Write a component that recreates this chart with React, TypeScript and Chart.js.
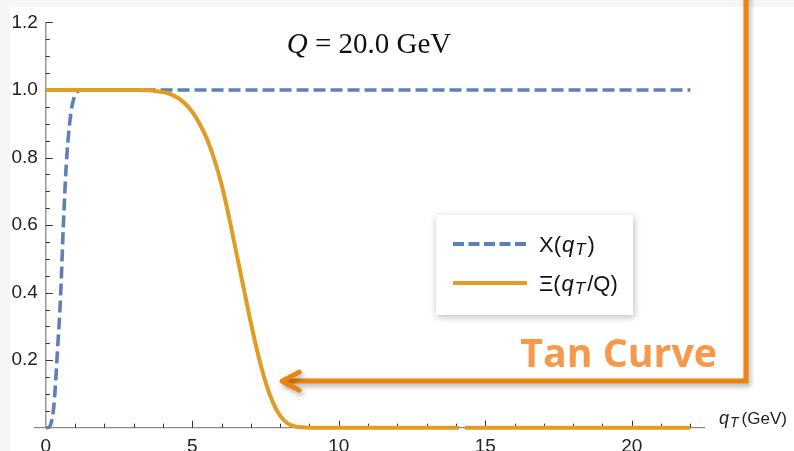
import React, { useEffect, useRef } from "react";
import { Chart, registerables } from "chart.js";

Chart.register(...registerables);

// ---- data ----
const xQ = [0, 0.1, 0.2, 0.25, 0.3, 0.4, 0.5, 0.6, 0.7, 0.8, 0.9, 1.0, 1.1, 1.2, 22.0];
const xVals = [0, 0.001, 0.02, 0.045, 0.09, 0.23, 0.38, 0.6, 0.78, 0.89, 0.955, 0.985, 0.997, 1.0, 1.0];

const xiQ = [0, 3.0, 3.5, 3.75, 4.0, 4.25, 4.5, 4.75, 5.0, 5.25, 5.5, 5.75, 6.0, 6.25, 6.5, 6.75, 7.0, 7.25, 7.5, 7.75, 8.0, 8.25, 8.5, 8.75, 9.0, 14.1, 14.2, 14.3, 22.0];
const xiVals = [1, 1, 0.999, 0.997, 0.994, 0.988, 0.977, 0.96, 0.935, 0.9, 0.855, 0.795, 0.72, 0.625, 0.52, 0.415, 0.31, 0.215, 0.135, 0.075, 0.035, 0.013, 0.004, 0.001, 0, 0, null, 0, 0];

const yTickLabels = ["0.2", "0.4", "0.6", "0.8", "1.0", "1.2"];
const xTickLabels = ["0", "5", "10", "15", "20"];

const titleText = { q: "Q", rest: " = 20.0 GeV" };
const legendLabels = ["X", "Ξ"];
const annotationText = "Tan Curve";
// arrow, in data coordinates
const arrowTip = { x: 8.03, y: 0.138 };
const arrowRightX = 23.9;

const BLUE = "#5E81B5";
const ORANGE = "#E19C24";
const ANN = "#EE830F";
const ANN_TEXT = "#F7984A";
const SANS = "'Liberation Sans', Arial, sans-serif";
const SERIF = "'Liberation Serif', 'Times New Roman', serif";

function drawQT(ctx: CanvasRenderingContext2D, x: number, y: number, size: number) {
  ctx.font = `italic ${size}px ${SANS}`;
  ctx.fillText("q", x, y);
  x += ctx.measureText("q").width + 1;
  const sub = Math.round(size * 0.75);
  ctx.font = `italic ${sub}px ${SANS}`;
  ctx.fillText("T", x, y + size * 0.15);
  x += ctx.measureText("T").width + 2;
  return x;
}

const decorPlugin = {
  id: "decor",
  beforeDraw(chart: any) {
    const { ctx, width, height } = chart;
    ctx.save();
    ctx.fillStyle = "#ffffff";
    ctx.fillRect(0, 0, width, height);
    ctx.fillStyle = "#f6f6f6";
    ctx.fillRect(0, 0, width, 7);
    ctx.fillRect(0, 0, 10, height);
    ctx.restore();
  },
  beforeDatasetsDraw(chart: any) {
    const { ctx } = chart;
    const xs = chart.scales.x;
    const ys = chart.scales.y;
    const x0 = xs.getPixelForValue(0);
    const y0 = ys.getPixelForValue(0);
    ctx.save();
    // axes
    ctx.strokeStyle = "#8a8a8a";
    ctx.lineWidth = 1.3;
    ctx.beginPath();
    ctx.moveTo(x0, ys.getPixelForValue(1.2) - 0.5);
    ctx.lineTo(x0, y0);
    ctx.moveTo(x0 - 12, y0);
    ctx.lineTo(xs.right, y0);
    ctx.stroke();
    // ticks
    ctx.strokeStyle = "#333";
    ctx.lineWidth = 1;
    ctx.beginPath();
    for (let i = 1; i <= 24; i++) {
      const v = i * 0.05;
      const p = Math.round(ys.getPixelForValue(v)) + 0.5;
      const len = i % 4 === 0 ? 7 : 4;
      ctx.moveTo(x0, p);
      ctx.lineTo(x0 + len, p);
    }
    for (let i = 1; i <= 22; i++) {
      const p = Math.round(xs.getPixelForValue(i)) + 0.5;
      const len = i % 5 === 0 ? 7 : 4;
      ctx.moveTo(p, y0);
      ctx.lineTo(p, y0 - len);
    }
    ctx.stroke();
    ctx.restore();
  },
  afterDraw(chart: any) {
    const { ctx } = chart;
    const xs = chart.scales.x;
    const ys = chart.scales.y;
    ctx.save();

    // title
    ctx.fillStyle = "#111";
    ctx.textBaseline = "alphabetic";
    const tf = 29;
    ctx.font = `italic ${tf}px ${SERIF}`;
    const wq = ctx.measureText(titleText.q).width;
    ctx.font = `${tf}px ${SERIF}`;
    const wr = ctx.measureText(titleText.rest).width;
    const tx = 369 - (wq + wr) / 2;
    ctx.font = `italic ${tf}px ${SERIF}`;
    ctx.fillText(titleText.q, tx, 53);
    ctx.font = `${tf}px ${SERIF}`;
    ctx.fillText(titleText.rest, tx + wq, 53);

    // x axis label
    ctx.fillStyle = "#222";
    let ax = drawQT(ctx, 719, 424, 18);
    ctx.font = `17px ${SANS}`;
    ctx.fillText("(GeV)", ax + 1, 424);

    // legend
    ctx.save();
    ctx.shadowColor = "rgba(0,0,0,0.28)";
    ctx.shadowBlur = 7;
    ctx.shadowOffsetX = 1;
    ctx.shadowOffsetY = 2;
    ctx.fillStyle = "#fff";
    ctx.fillRect(436, 215, 197, 100);
    ctx.restore();
    ctx.lineWidth = 4;
    ctx.strokeStyle = BLUE;
    ctx.setLineDash([11, 4.5]);
    ctx.beginPath();
    ctx.moveTo(453, 244);
    ctx.lineTo(527, 244);
    ctx.stroke();
    ctx.setLineDash([]);
    ctx.strokeStyle = ORANGE;
    ctx.beginPath();
    ctx.moveTo(453, 283);
    ctx.lineTo(527, 283);
    ctx.stroke();
    ctx.fillStyle = "#111";
    const fs = 22;
    let lx = 539;
    ctx.font = `${fs}px ${SANS}`;
    ctx.fillText(legendLabels[0] + "(", lx, 252);
    lx += ctx.measureText(legendLabels[0] + "(").width + 1;
    lx = drawQT(ctx, lx, 252, fs);
    ctx.font = `${fs}px ${SANS}`;
    ctx.fillText(")", lx, 252);
    lx = 539;
    ctx.fillText(legendLabels[1] + "(", lx, 291);
    lx += ctx.measureText(legendLabels[1] + "(").width + 1;
    lx = drawQT(ctx, lx, 291, fs);
    ctx.font = `${fs}px ${SANS}`;
    ctx.fillText("/Q)", lx, 291);

    // annotation arrow
    const tipX = xs.getPixelForValue(arrowTip.x);
    const tipY = ys.getPixelForValue(arrowTip.y);
    const rx = xs.getPixelForValue(arrowRightX);
    ctx.save();
    ctx.shadowColor = "rgba(0,0,0,0.3)";
    ctx.shadowBlur = 5;
    ctx.shadowOffsetX = 2;
    ctx.shadowOffsetY = 3;
    ctx.strokeStyle = ANN;
    ctx.lineWidth = 5;
    ctx.lineJoin = "miter";
    ctx.beginPath();
    ctx.moveTo(rx, -10);
    ctx.lineTo(rx, tipY);
    ctx.lineTo(tipX + 3, tipY);
    ctx.stroke();
    ctx.lineCap = "round";
    ctx.lineJoin = "round";
    ctx.beginPath();
    ctx.moveTo(tipX + 18, tipY - 9);
    ctx.lineTo(tipX + 1, tipY);
    ctx.lineTo(tipX + 18, tipY + 9);
    ctx.stroke();
    ctx.restore();

    // annotation text
    ctx.fillStyle = ANN_TEXT;
    ctx.font = `bold 40px 'Open Sans', Lato, sans-serif`;
    const w0 = ctx.measureText(annotationText).width;
    const size = Math.min(44, 40 * 197 / w0);
    ctx.font = `bold ${size.toFixed(1)}px 'Open Sans', Lato, sans-serif`;
    const w = ctx.measureText(annotationText).width;
    ctx.fillText(annotationText, 717 - w, 367);

    ctx.restore();
  },
};

export default function App() {
  const ref = useRef<HTMLCanvasElement | null>(null);

  useEffect(() => {
    if (!ref.current) return;
    const chart = new Chart(ref.current, {
      type: "scatter",
      data: {
        datasets: [
          {
            label: "Xi",
            data: xiQ.map((q, i) => ({ x: q, y: xiVals[i] })),
            showLine: true,
            borderColor: ORANGE,
            backgroundColor: ORANGE,
            borderWidth: 4,
            pointRadius: 0,
            cubicInterpolationMode: "monotone",
            spanGaps: false,
            clip: false,
            order: 1,
          } as any,
          {
            label: "X",
            data: xQ.map((q, i) => ({ x: q, y: xVals[i] })),
            showLine: true,
            borderColor: BLUE,
            backgroundColor: BLUE,
            borderWidth: 3.6,
            borderDash: [12, 5],
            pointRadius: 0,
            cubicInterpolationMode: "monotone",
            clip: false,
            order: 2,
          } as any,
        ],
      },
      options: {
        animation: false,
        responsive: false,
        devicePixelRatio: 1,
        layout: { padding: { top: 22.5, right: 89, left: 0, bottom: 0 } },
        plugins: {
          legend: { display: false },
          tooltip: { enabled: false },
        },
        scales: {
          x: {
            type: "linear",
            min: 0,
            max: 22.5,
            grid: { display: false, drawTicks: false },
            border: { display: false },
            ticks: {
              stepSize: 5,
              includeBounds: false,
              autoSkip: false,
              maxRotation: 0,
              padding: 8,
              color: "#222",
              font: { family: SANS, size: 19 },
              callback: (v: any) => {
                const s = String(Math.round(Number(v)));
                return xTickLabels.includes(s) ? s : "";
              },
            },
            afterFit: (s: any) => {
              s.height = 23.3;
            },
          },
          y: {
            type: "linear",
            min: 0,
            max: 1.2,
            grid: { display: false, drawTicks: false },
            border: { display: false },
            ticks: {
              stepSize: 0.2,
              includeBounds: false,
              autoSkip: false,
              padding: 8,
              color: "#222",
              font: { family: SANS, size: 19 },
              callback: (v: any) => {
                const s = Number(v).toFixed(1);
                return yTickLabels.includes(s) ? s : "";
              },
            },
            afterFit: (s: any) => {
              s.width = 45.8;
            },
          },
        },
      },
      plugins: [decorPlugin],
    });
    return () => chart.destroy();
  }, []);

  return (
    <div style={{ position: "absolute", left: 0, top: 0, width: 794, height: 451 }}>
      <canvas ref={ref} width={794} height={451} style={{ display: "block" }} />
    </div>
  );
}
